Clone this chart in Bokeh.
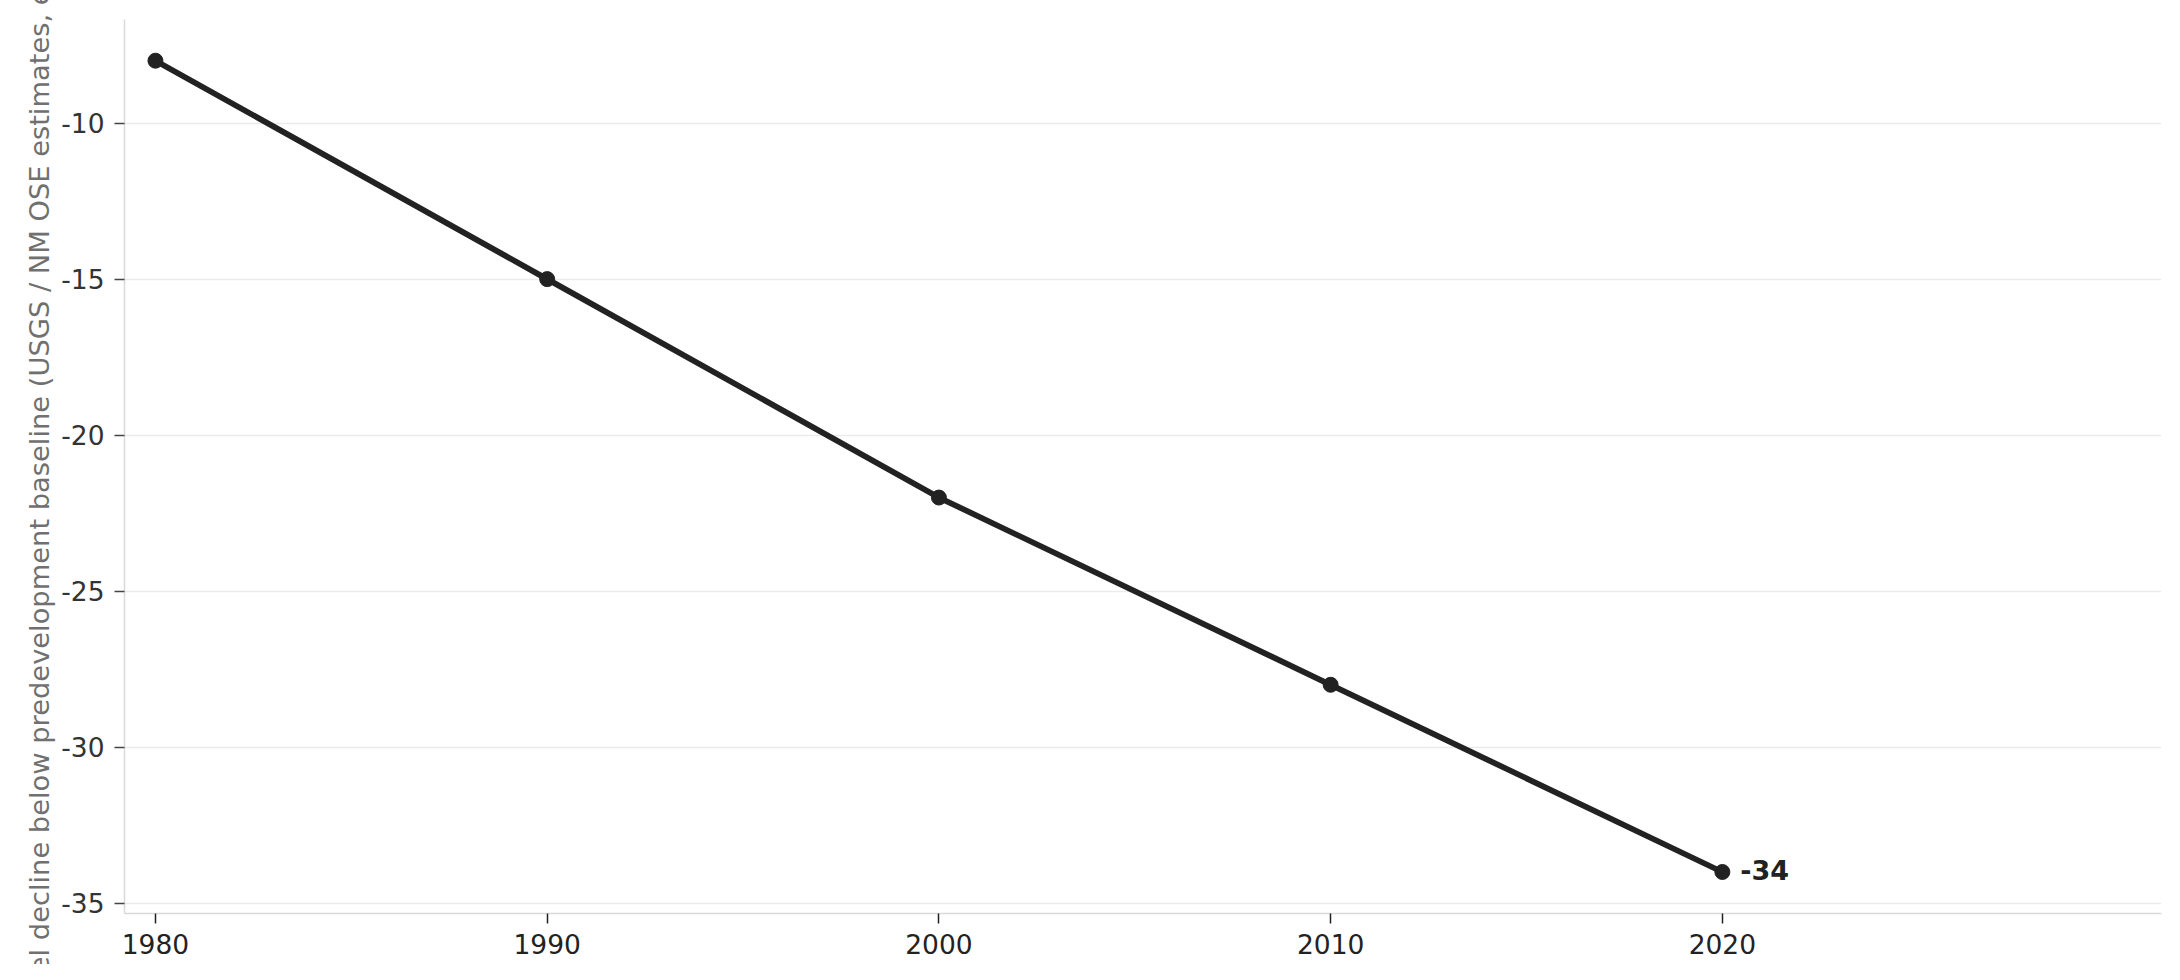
from bokeh.plotting import figure
from bokeh.models import Range1d, FixedTicker, ColumnDataSource, Label
from bokeh.embed import file_html
from bokeh.resources import INLINE

years = [1980, 1990, 2000, 2010, 2020]
decline = [-8, -15, -22, -28, -34]
x_ticks = [1980, 1990, 2000, 2010, 2020]
y_ticks = [-35, -30, -25, -20, -15, -10]
y_tick_labels = ["-35", "-30", "-25", "-20", "-15", "-10"]
y_label = "Groundwater level decline below predevelopment baseline (USGS / NM OSE estimates, est. water depth, ft)"
end_label = "-34"

FONT = "DejaVu Sans"

p = figure(width=2164, height=964, output_backend="svg", toolbar_location=None,
           x_range=Range1d(1979.21, 2031.21), y_range=Range1d(-35.33, -6.68),
           min_border_left=124, min_border_right=3, min_border_top=19, min_border_bottom=51)
p.outline_line_color = None
p.background_fill_color = "white"
p.border_fill_color = "white"

src = ColumnDataSource(dict(x=years, y=decline))
p.line("x", "y", source=src, line_color="#222222", line_width=5.8)
p.scatter("x", "y", source=src, size=15, fill_color="#222222", line_color="#222222")

p.add_layout(Label(x=years[-1], y=decline[-1], text=end_label, x_offset=18, y_offset=2,
                   text_font=FONT, text_font_style="bold", text_font_size="27px",
                   text_color="#222222", text_align="left", text_baseline="middle"))

p.xgrid.visible = False
p.ygrid.grid_line_color = "#ebebeb"
p.ygrid.grid_line_width = 1.5
p.ygrid.ticker = FixedTicker(ticks=y_ticks)

p.xaxis.ticker = FixedTicker(ticks=x_ticks)
p.yaxis.ticker = FixedTicker(ticks=y_ticks)
p.yaxis.major_label_overrides = {t: s for t, s in zip(y_ticks, y_tick_labels)}
p.xaxis.minor_tick_line_color = None
p.yaxis.minor_tick_line_color = None

for ax in (p.xaxis, p.yaxis):
    ax.axis_line_color = "#d9d9d9"
    ax.axis_line_width = 1.5
    ax.major_tick_in = 0
    ax.major_tick_out = 10
    ax.major_tick_line_width = 1.5
    ax.major_label_text_font = FONT
    ax.major_label_text_font_size = "26.5px"

p.xaxis.major_label_standoff = 10
p.yaxis.major_label_standoff = 10
p.xaxis.major_tick_line_color = "#222222"
p.yaxis.major_tick_line_color = "#444444"
p.xaxis.major_label_text_color = "#222222"
p.yaxis.major_label_text_color = "#333333"

p.yaxis.axis_label = y_label
p.yaxis.axis_label_text_font = FONT
p.yaxis.axis_label_text_font_size = "27.3px"
p.yaxis.axis_label_text_font_style = "normal"
p.yaxis.axis_label_text_color = "#707070"
p.yaxis.axis_label_standoff = 3

open("out.html", "w").write(file_html(p, INLINE))
